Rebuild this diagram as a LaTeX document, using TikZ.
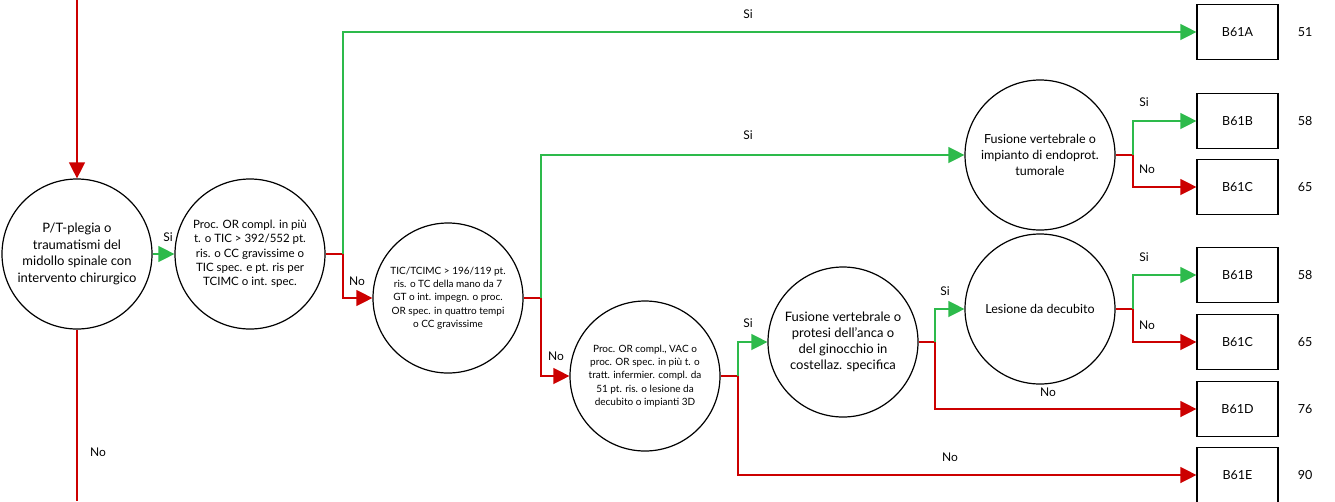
\documentclass[tikz,border=0pt]{standalone}
\usepackage{fontspec}
\setmainfont{Lato}
\usetikzlibrary{arrows.meta}
\definecolor{sigreen}{HTML}{2DBA4B}
\definecolor{nored}{HTML}{CC0000}

\begin{document}
\begin{tikzpicture}[x=1pt,y=-1pt,
        question/.style={draw,circle,line width=1.2pt,minimum size=150pt,inner sep=0pt,align=center},
        drg/.style={draw,rectangle,line width=1.2pt,minimum width=81pt,minimum height=55pt,font=\fontsize{12.5}{15}\selectfont},
        yes/.style={draw=sigreen,line width=1.3pt,-{Triangle[length=16pt,width=16pt]}},
        no/.style={draw=nored,line width=1.3pt,-{Triangle[length=16pt,width=16pt]}},
        stem/.style={draw=nored,line width=1.3pt},
        lbl/.style={font=\fontsize{12}{14}\selectfont},
        weight/.style={font=\fontsize{12.5}{15}\selectfont}]
        \useasboundingbox (0,0) rectangle (1335,501);

        % domande
        \node[question,font=\fontsize{13}{16.7}\selectfont] (plegia) at (77,254) {P/T-plegia o\\traumatismi del\\midollo spinale con\\intervento chirurgico};
        \node[question,font=\fontsize{11.5}{14.3}\selectfont] (procor) at (250,254) {Proc. OR compl. in più\\t. o TIC > 392/552 pt.\\ris. o CC gravissime o\\TIC spec. e pt. ris per\\TCIMC o int. spec.};
        \node[question,font=\fontsize{10}{13.3}\selectfont] (tic) at (448,298) {TIC/TCIMC > 196/119 pt.\\ris. o TC della mano da 7\\GT o int. impegn. o proc.\\OR spec. in quattro tempi\\o CC gravissime};
        \node[question,font=\fontsize{12.5}{16}\selectfont] (endo) at (1040,155) {Fusione vertebrale o\\impianto di endoprot.\\tumorale};
        \node[question,font=\fontsize{10}{13.3}\selectfont] (vac) at (645,376) {Proc. OR compl., VAC o\\proc. OR spec. in più t. o\\tratt. infermier. compl. da\\51 pt. ris. o lesione da\\decubito o impianti 3D};
        \node[question,font=\fontsize{13}{16}\selectfont] (anca) at (843,342) {Fusione vertebrale o\\protesi dell’anca o\\del ginocchio in\\costellaz. specifica};
        \node[question,font=\fontsize{12.5}{16}\selectfont] (lesione) at (1040,309) {Lesione da decubito};

        % DRG
        \node[drg] (b61a) at (1237.5,32) {B61A};
        \node[drg] (b61b) at (1237.5,121) {B61B};
        \node[drg] (b61c) at (1237.5,187) {B61C};
        \node[drg] (b61bb) at (1237.5,275) {B61B};
        \node[drg] (b61cc) at (1237.5,342) {B61C};
        \node[drg] (b61d) at (1237.5,409) {B61D};
        \node[drg] (b61e) at (1237.5,475) {B61E};

        % pesi
        \node[weight] (wa) at (1305,32) {51};
        \node[weight] (wb) at (1305,121) {58};
        \node[weight] (wc) at (1305,187) {65};
        \node[weight] (wbb) at (1305,275) {58};
        \node[weight] (wcc) at (1305,342) {65};
        \node[weight] (wd) at (1305,409) {76};
        \node[weight] (we) at (1305,475) {90};

        % punti di diramazione
        \coordinate (top) at (77,0);
        \coordinate (bottom) at (77,501);
        \coordinate (jprocor) at (343,254);
        \coordinate (jtic) at (541,298);
        \coordinate (jvac) at (738,376);
        \coordinate (janca) at (935,342);
        \coordinate (jendo) at (1133,155);
        \coordinate (jlesione) at (1133,309);

        % collegamenti
        \draw[no] (top) -- (plegia.north);
        \draw[stem] (plegia.south) -- (bottom);
        \draw[yes] (plegia.east) -- (procor.west);

        \draw[stem] (procor.east) -- (jprocor);
        \draw[yes] (jprocor) |- (b61a.west);
        \draw[no] (jprocor) |- (tic.west);

        \draw[stem] (tic.east) -- (jtic);
        \draw[yes] (jtic) |- (endo.west);
        \draw[no] (jtic) |- (vac.west);

        \draw[stem] (endo.east) -- (jendo);
        \draw[yes] (jendo) |- (b61b.west);
        \draw[no] (jendo) |- (b61c.west);

        \draw[stem] (vac.east) -- (jvac);
        \draw[yes] (jvac) |- (anca.west);
        \draw[no] (jvac) |- (b61e.west);

        \draw[stem] (anca.east) -- (janca);
        \draw[yes] (janca) |- (lesione.west);
        \draw[no] (janca) |- (b61d.west);

        \draw[stem] (lesione.east) -- (jlesione);
        \draw[yes] (jlesione) |- (b61bb.west);
        \draw[no] (jlesione) |- (b61cc.west);

        % etichette
        \node[lbl] (si1) at (168,237) {Si};
        \node[lbl] (no1) at (98,452) {No};
        \node[lbl] (si2) at (748,14) {Si};
        \node[lbl] (no2) at (357,281) {No};
        \node[lbl] (si3) at (748,135) {Si};
        \node[lbl] (no3) at (556,356) {No};
        \node[lbl] (si4) at (1144,102) {Si};
        \node[lbl] (no4) at (1147,169) {No};
        \node[lbl] (si5) at (748,323) {Si};
        \node[lbl] (no5) at (950,457) {No};
        \node[lbl] (si6) at (945,291) {Si};
        \node[lbl] (no6) at (1048,392) {No};
        \node[lbl] (si7) at (1144,257) {Si};
        \node[lbl] (no7) at (1147,325) {No};
    \end{tikzpicture}
\end{document}
